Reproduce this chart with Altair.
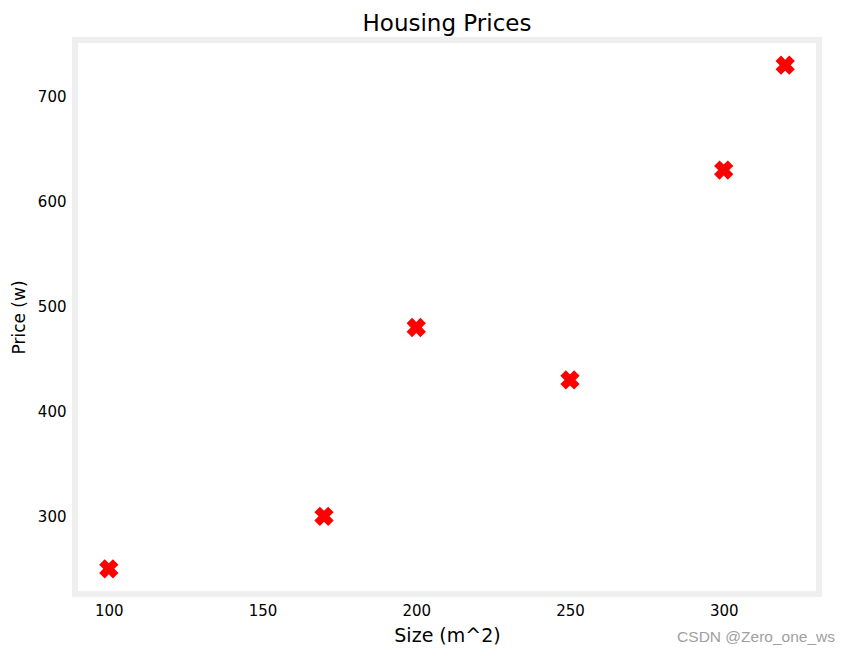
import altair as alt
import pandas as pd

sizes = [100, 170, 200, 250, 300, 320]
prices = [250, 300, 480, 430, 630, 730]
x_ticks = [100, 150, 200, 250, 300]
y_ticks = [300, 400, 500, 600, 700]

df = pd.DataFrame({"size": sizes, "price": prices})

FONT = "DejaVu Sans"

points = alt.Chart(df).mark_point(
    shape="cross", angle=45, filled=True, color="#ff0000", size=380, opacity=1
).encode(
    x=alt.X("size:Q", scale=alt.Scale(domain=[89, 331], nice=False, zero=False),
            axis=alt.Axis(values=x_ticks, title="Size (m^2)", domain=False, ticks=False,
                          grid=False, labelPadding=9, labelFontSize=15, labelFont=FONT,
                          labelColor="#000000", titleFont=FONT, titleFontSize=19,
                          titleFontWeight="normal", titleColor="#000000",
                          titleBaseline="alphabetic", titleY=47, titleX=372)),
    y=alt.Y("price:Q", scale=alt.Scale(domain=[226, 754], nice=False, zero=False),
            axis=alt.Axis(values=y_ticks, title="Price (w)", domain=False, ticks=False,
                          grid=False, labelPadding=9, labelFontSize=15, labelFont=FONT,
                          labelColor="#000000", titleFont=FONT, titleFontSize=17,
                          titleFontWeight="normal", titleColor="#000000",
                          titleAngle=270, titleAlign="center", titleBaseline="alphabetic",
                          titleX=-51, titleY=277)),
)

mark_df = pd.DataFrame({"t": ["CSDN @Zero_one_ws"]})
watermark = alt.Chart(mark_df).mark_text(
    font="Liberation Sans", fontSize=15.5, color="#a0a0a0", align="right", baseline="alphabetic"
).encode(text="t:N", x=alt.value(760), y=alt.value(602))

chart = alt.layer(points, watermark).properties(
    width=744, height=554,
    title=alt.TitleParams("Housing Prices", font=FONT, fontSize=23, fontWeight="normal",
                          color="#000000", anchor="middle", baseline="alphabetic",
                          offset=12, dy=26),
    autosize=alt.AutoSizeParams(type="none"),
    padding={"left": 67, "top": 32, "right": 24, "bottom": 60},
).configure_view(stroke="#efefef", strokeWidth=6)

chart.save("out.html", embed_options={"renderer": "svg", "actions": False})
